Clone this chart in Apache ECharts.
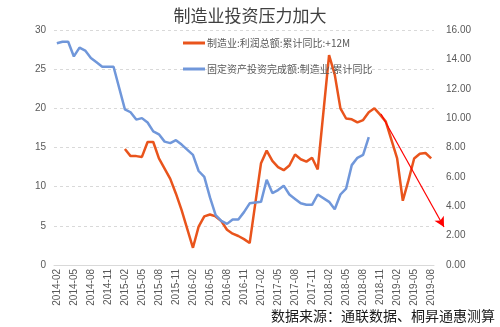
<!DOCTYPE html>
<html>
<head>
<meta charset="utf-8">
<script src="https://cdn.jsdelivr.net/npm/echarts@6/dist/echarts.min.js"></script>
<style>html,body{margin:0;padding:0;background:#fff;}#c{width:500px;height:327px;}</style>
</head>
<body>
<div id="c"></div>
<script>
const months = [
'2014-02','2014-03','2014-04','2014-05','2014-06','2014-07','2014-08','2014-09','2014-10','2014-11','2014-12',
'2015-01','2015-02','2015-03','2015-04','2015-05','2015-06','2015-07','2015-08','2015-09','2015-10','2015-11','2015-12',
'2016-01','2016-02','2016-03','2016-04','2016-05','2016-06','2016-07','2016-08','2016-09','2016-10','2016-11','2016-12',
'2017-01','2017-02','2017-03','2017-04','2017-05','2017-06','2017-07','2017-08','2017-09','2017-10','2017-11','2017-12',
'2018-01','2018-02','2018-03','2018-04','2018-05','2018-06','2018-07','2018-08','2018-09','2018-10','2018-11','2018-12',
'2019-01','2019-02','2019-03','2019-04','2019-05','2019-06','2019-07','2019-08'];

// 制造业:利润总额:累计同比:+12M (left axis)
const profitYoY12M = [
null,null,null,null,null,null,null,null,null,null,null,
null,14.8,13.9,13.9,13.8,15.7,15.7,13.6,12.3,11.0,9.1,7.0,
null,2.2,4.9,6.2,6.45,6.2,5.6,4.5,4.0,3.7,3.3,2.8,
null,13.0,14.6,13.3,12.5,12.1,12.7,14.1,13.5,13.2,13.7,12.2,
null,26.8,24.3,20.0,18.7,18.6,18.2,18.5,19.5,20.0,19.2,18.3,
null,13.6,8.2,10.8,13.6,14.2,14.3,13.6];

// 固定资产投资完成额:制造业:累计同比 (right axis)
const faiMfgYoY = [
15.1,15.2,15.2,14.2,14.8,14.6,14.1,13.8,13.5,13.5,13.5,
null,10.6,10.4,9.9,10.0,9.7,9.1,8.9,8.4,8.3,8.5,8.2,
null,7.5,6.4,6.0,4.6,3.4,3.0,2.8,3.1,3.1,3.6,4.2,
null,4.3,5.8,4.9,5.1,5.4,4.8,4.5,4.2,4.1,4.1,4.8,
null,4.3,3.8,4.8,5.2,6.8,7.3,7.5,8.7,null,null,null,
null,null,null,null,null,null,null,null];

const seriesNames = ['制造业:利润总额:累计同比:+12M','固定资产投资完成额:制造业:累计同比'];
const titleText = '制造业投资压力加大';
const sourceText = '数据来源：通联数据、桐昇通惠测算';
// annotation arrow (pixel positions of the hand-drawn trend arrow)
const arrowPx = {x1: 381, y1: 114, x2: 444, y2: 227};

const chart = echarts.init(document.getElementById('c'), null, {renderer: 'canvas'});
const numFont = 'Liberation Sans';
const cjkFont = '"Noto Sans CJK SC", "Noto Sans", sans-serif';
chart.setOption({
  animation: false,
  backgroundColor: '#fff',
  title: {
    text: titleText, left: 'center', top: 2,
    textStyle: {fontFamily: cjkFont, fontSize: 17, fontWeight: 'normal', color: '#404040'}
  },
  legend: {
    orient: 'vertical', left: 178, top: 33, itemGap: 16,
    itemWidth: 22, itemHeight: 3, icon: 'rect',
    textStyle: {fontFamily: cjkFont, fontSize: 10, color: '#595959', padding: [0,0,0,-3]},
    data: seriesNames
  },
  grid: {left: 54, right: 66, top: 30, bottom: 62},
  xAxis: {
    type: 'category', data: months, boundaryGap: true,
    axisLine: {lineStyle: {color: '#d9d9d9'}},
    axisTick: {interval: 2, length: 4, lineStyle: {color: '#d9d9d9'}},
    axisLabel: {interval: 2, rotate: 90, margin: 4, fontFamily: numFont, fontSize: 10, color: '#595959'}
  },
  yAxis: [
    {type: 'value', min: 0, max: 30, interval: 5,
     axisLine: {show: false}, axisTick: {show: false},
     axisLabel: {margin: 8, fontFamily: numFont, fontSize: 10, color: '#595959'},
     splitLine: {lineStyle: {color: '#d9d9d9', type: [3, 3]}}},
    {type: 'value', min: 0, max: 16, interval: 2, position: 'right',
     axisLine: {show: false}, axisTick: {show: false},
     axisLabel: {margin: 12, fontFamily: numFont, fontSize: 10, color: '#595959',
       formatter: v => v.toFixed(2)},
     splitLine: {show: false}}
  ],
  series: [
    {name: seriesNames[0], type: 'line', yAxisIndex: 0, data: profitYoY12M,
     connectNulls: true, symbol: 'none', smooth: false, clip: false,
     lineStyle: {color: '#E9541C', width: 2.5}, itemStyle: {color: '#E9541C'},
     markLine: {
       silent: true, symbol: ['none', 'arrow'], symbolSize: [8, 10],
       label: {show: false},
       lineStyle: {color: '#FF0000', width: 1.2, type: 'solid'},
       data: [[{x: arrowPx.x1, y: arrowPx.y1}, {x: arrowPx.x2, y: arrowPx.y2}]]
     }},
    {name: seriesNames[1], type: 'line', yAxisIndex: 1, data: faiMfgYoY,
     connectNulls: true, symbol: 'none', smooth: false,
     lineStyle: {color: '#7097DA', width: 2.5}, itemStyle: {color: '#7097DA'}}
  ],
  graphic: [{
    type: 'text', right: 5, top: 309,
    style: {text: sourceText, fontFamily: cjkFont, fontSize: 14, fill: '#1a1a1a'}
  }]
});
</script>
</body>
</html>
